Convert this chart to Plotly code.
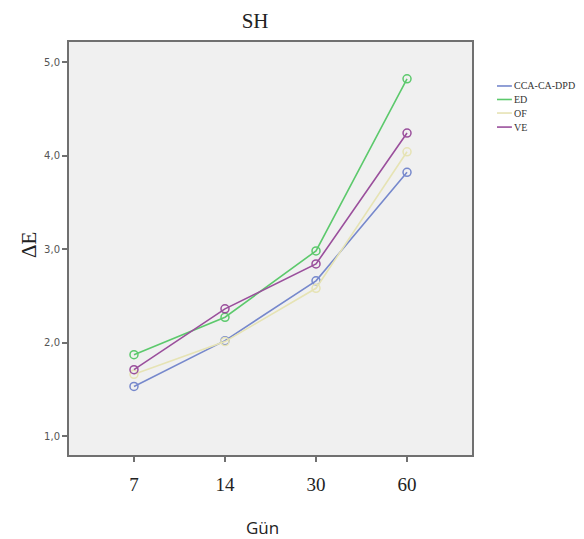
import plotly.graph_objects as go

days = ["7", "14", "30", "60"]
series_names = ["CCA-CA-DPD", "ED", "OF", "VE"]
cca = [1.53, 2.02, 2.66, 3.82]
ed = [1.87, 2.27, 2.98, 4.82]
of = [1.66, 2.01, 2.58, 4.04]
ve = [1.71, 2.36, 2.84, 4.24]
values = [cca, ed, of, ve]
colors = ["#7688cc", "#5cc96c", "#e6e3b4", "#9a4f9c"]

fig = go.Figure()
for name, vals, col in zip(series_names, values, colors):
    fig.add_trace(go.Scatter(
        x=days, y=vals, name=name, mode="lines+markers",
        line=dict(color=col, width=1.6),
        marker=dict(symbol="circle-open", size=8, color=col, line=dict(width=1.5)),
        showlegend=False,
    ))

# compact legend drawn as line samples + text (page body has 8px offset)
legend_y = [0.8935, 0.8608, 0.828, 0.794]
for name, col, ly in zip(series_names, colors, legend_y):
    fig.add_shape(type="line", xref="paper", yref="paper",
                  x0=1.062, x1=1.099, y0=ly, y1=ly,
                  line=dict(color=col, width=1.6))
    fig.add_annotation(text=name, xref="paper", yref="paper", x=1.099, y=ly,
                       xanchor="left", yanchor="middle", showarrow=False,
                       font=dict(family="Liberation Serif", size=10, color="#333"))

fig.add_annotation(text="Gün", xref="paper", yref="paper",
                   x=(254 - 61) / 403, y=-(519 - 447) / 413,
                   xanchor="center", yanchor="middle", showarrow=False,
                   font=dict(family="Open Sans", size=17, color="#222"))
fig.add_annotation(text="ΔE", xref="paper", yref="paper",
                   x=-(61 - 21) / 403, y=1 - (237 - 34) / 413, textangle=-90,
                   xanchor="center", yanchor="middle", showarrow=False,
                   font=dict(family="Liberation Serif", size=21, color="#222"))

fig.update_layout(
    width=576, height=531,
    margin=dict(l=61, r=112, t=34, b=84, autoexpand=False),
    paper_bgcolor="white",
    plot_bgcolor="#f0f0f0",
    separators=",.",
    title=dict(text="SH", x=0.429, xanchor="center", y=0.977, yanchor="middle",
               font=dict(family="Liberation Serif", size=21, color="#222")),
    showlegend=False,
    xaxis=dict(
        type="category", range=[-0.714, 3.714],
        showgrid=False, zeroline=False, automargin=False,
        showline=True, linecolor="#707070", linewidth=2, mirror=True,
        ticks="outside", ticklen=5, tickcolor="#707070", tickwidth=1.5,
        ticklabelstandoff=6,
        tickfont=dict(family="Liberation Serif", size=19, color="#222"),
    ),
    yaxis=dict(
        range=[0.797, 5.214], tickvals=[1, 2, 3, 4, 5], tickformat=".1f",
        showgrid=False, zeroline=False, automargin=False,
        showline=True, linecolor="#707070", linewidth=2, mirror=True,
        ticks="outside", ticklen=5, tickcolor="#707070", tickwidth=1.5,
        tickfont=dict(family="DejaVu Sans", size=10, color="#555"),
    ),
)

fig.write_html("out.html")
